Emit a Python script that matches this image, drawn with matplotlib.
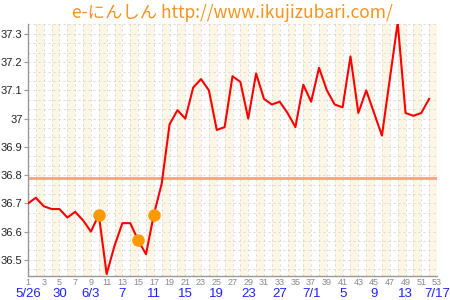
import matplotlib
matplotlib.use("Agg")
import matplotlib.pyplot as plt
import matplotlib.transforms as mtransforms
import numpy as np

days = list(range(1, 53))
temps = [36.70, 36.72, 36.69, 36.68, 36.68, 36.65, 36.67, 36.64, 36.60, 36.66,
         36.45, 36.55, 36.63, 36.63, 36.57, 36.52, 36.66, 36.77, 36.98, 37.03,
         37.00, 37.11, 37.14, 37.10, 36.96, 36.97, 37.15, 37.13, 37.00, 37.16,
         37.07, 37.05, 37.06, 37.02, 36.97, 37.12, 37.06, 37.18, 37.10, 37.05,
         37.04, 37.22, 37.02, 37.10, 37.02, 36.94, 37.14, 37.34, 37.02, 37.01,
         37.02, 37.07]
marker_days = [10, 15, 17]
marker_temps = [36.66, 36.57, 36.66]
baseline = 36.79
ytick_vals = [36.5, 36.6, 36.7, 36.8, 36.9, 37.0, 37.1, 37.2, 37.3]
ytick_labels = ["36.5", "36.6", "36.7", "36.8", "36.9", "37", "37.1", "37.2", "37.3"]
xtick_days = list(range(1, 54, 2))
date_days = [1, 5, 9, 13, 17, 21, 25, 29, 33, 37, 41, 45, 49, 53]
date_labels = ["5/26", "30", "6/3", "7", "11", "15", "19", "23", "27", "7/1",
               "5", "9", "13", "7/17"]
title = "e-にんしん http://www.ikujizubari.com/"

fig = plt.figure(figsize=(4.5, 3), dpi=100)
ax = fig.add_axes([28/450, 1-276/300, (437-28)/450, (276-24)/300])
ax.set_xlim(1, 53)
ax.set_ylim(36.443, 37.335)

# background stripes
for d in range(2, 53, 2):
    ax.axvspan(d, d+1, color="#fdf6e4", lw=0, zorder=0)
# dashed grid
for d in range(2, 54):
    ax.axvline(d, color="#d4d4d4", lw=0.6, ls=(0, (2.5, 3.5)), zorder=1)
for y in np.arange(36.5 - 0.1/3, 37.34, 0.1/3):
    ax.axhline(y, color="#d4d4d4", lw=0.6, ls=(0, (2.5, 3.5)), zorder=1)

ax.axhline(baseline, color="#ffa080", lw=2, zorder=2)
ax.plot(days, temps, color="#ff0000", lw=1.5, zorder=3)
ax.plot(marker_days, marker_temps, "o", color="#ff9900", ms=9, mec="none", zorder=4)

for s in ["top", "right"]:
    ax.spines[s].set_visible(False)
for s in ["left", "bottom"]:
    ax.spines[s].set_color("#999999")
    ax.spines[s].set_linewidth(1)

ax.set_yticks(ytick_vals)
ax.set_yticklabels(ytick_labels, fontsize=8, family="Liberation Sans")
ax.tick_params(axis="y", length=3, color="#999999", pad=1, labelcolor="#222222")
ax.set_xticks(xtick_days)
ax.set_xticklabels([str(d) for d in xtick_days], fontsize=6.5, color="#888888", family="Liberation Sans")
ax.tick_params(axis="x", length=0, pad=1.5)

trans = mtransforms.blended_transform_factory(ax.transData, fig.transFigure)
for d, lab in zip(date_days, date_labels):
    ax.text(d, 1-294/300, lab, transform=trans, ha="center", va="center",
            fontsize=9.5, color="#2020ff", family="Liberation Sans")

fig.text(232/450, 1-13/300, title, ha="center", va="center", fontsize=12.5,
         color="#f7931e", family=["Noto Sans CJK JP", "DejaVu Sans"])

fig.savefig("out.png", dpi=100)
